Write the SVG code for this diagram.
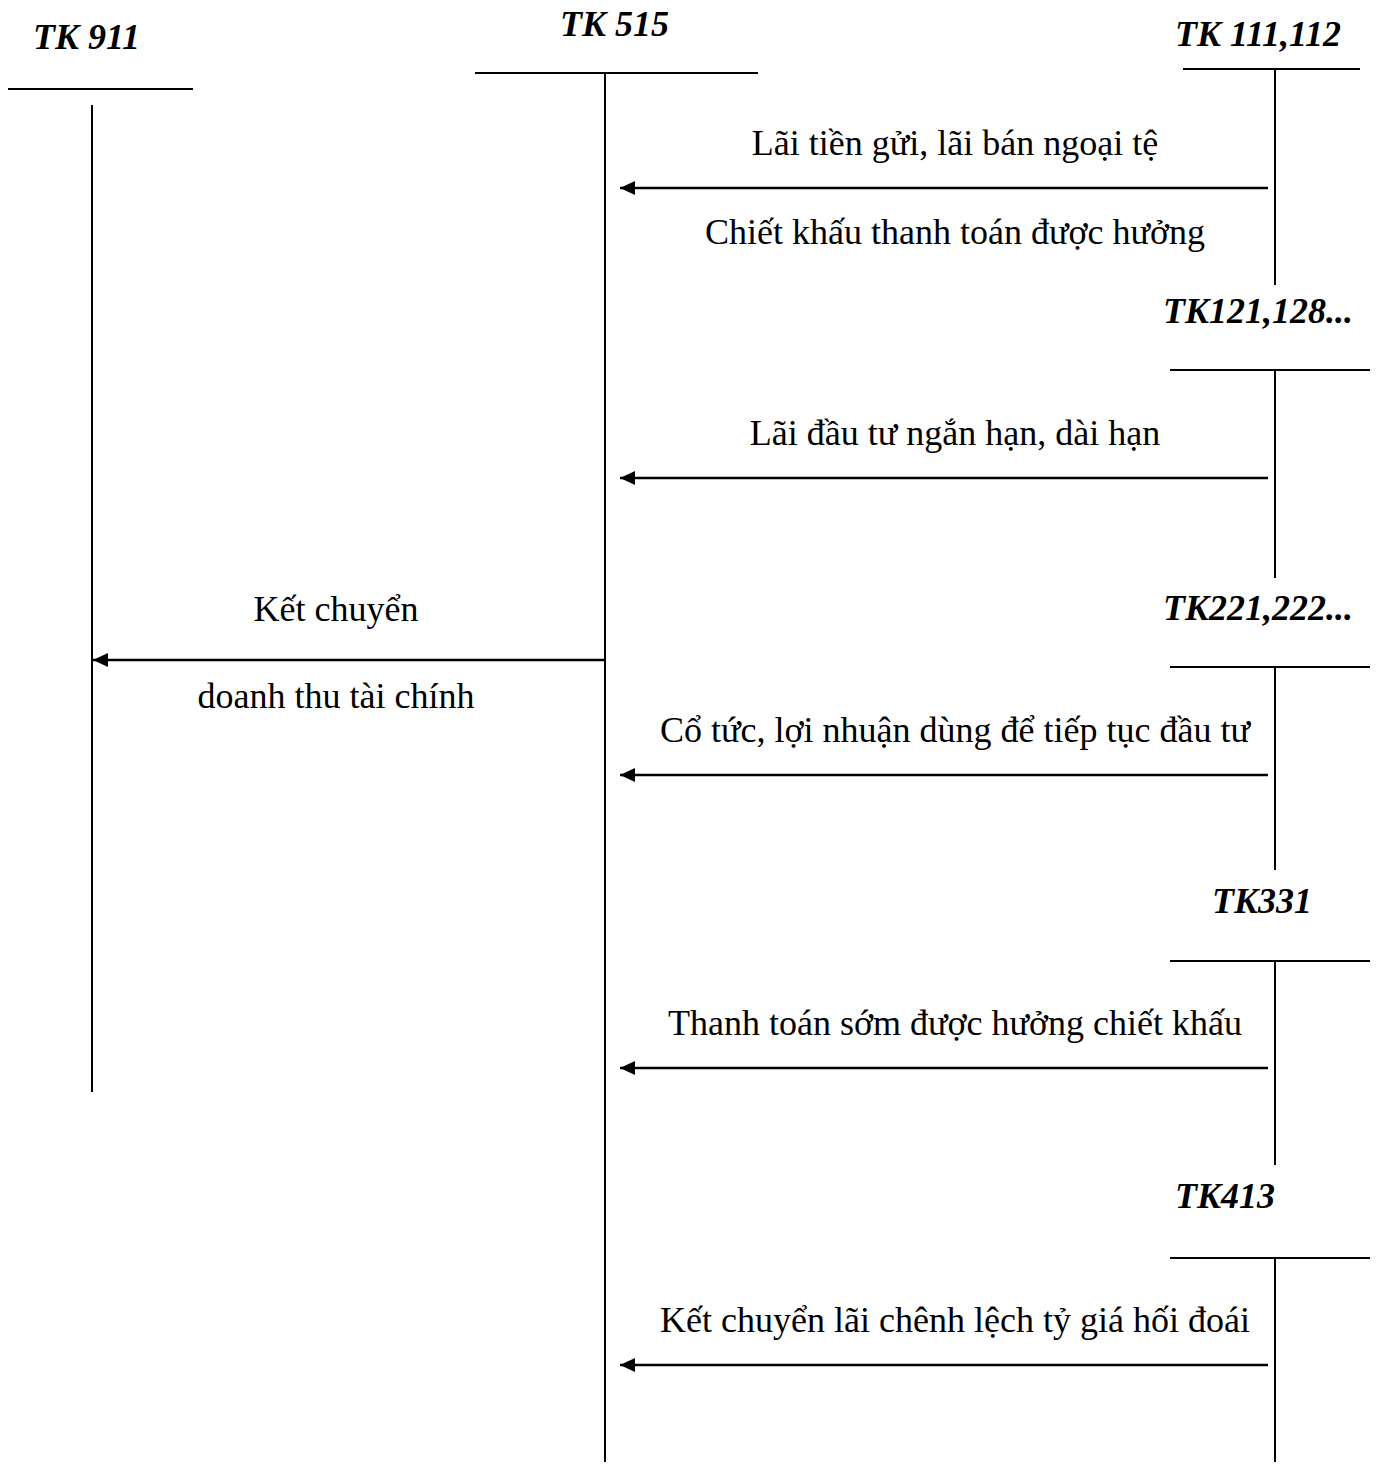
<svg xmlns="http://www.w3.org/2000/svg" width="1376" height="1466" viewBox="0 0 1376 1466">
  <style>
    .acct { font-family: "Liberation Serif", "Times New Roman", serif; font-size: 36px; font-weight: bold; font-style: italic; fill: #000; }
    .lbl { font-family: "Liberation Serif", "Times New Roman", serif; font-size: 36px; fill: #000; text-anchor: middle; }
    .t { stroke: #000; stroke-width: 2; fill: none; }
    .flow { stroke: #000; stroke-width: 2.4; fill: none; marker-end: url(#head); }
  </style>
  <defs>
    <marker id="head" markerUnits="userSpaceOnUse" markerWidth="16" markerHeight="14" refX="15" refY="7" orient="auto">
      <path d="M0,0 L15,7 L0,14 Z" fill="#000"/>
    </marker>
  </defs>
  <rect width="1376" height="1466" fill="#fff"/>

  <!-- T-accounts -->
  <g id="tk911">
    <text class="acct" x="33" y="49">TK 911</text>
    <line class="t" x1="8" y1="89" x2="193" y2="89"/>
    <line class="t" x1="92" y1="105" x2="92" y2="1092"/>
  </g>
  <g id="tk515">
    <text class="acct" x="560" y="36">TK 515</text>
    <line class="t" x1="475" y1="73" x2="758" y2="73"/>
    <line class="t" x1="605" y1="73" x2="605" y2="1462"/>
  </g>
  <g id="tk111">
    <text class="acct" x="1175" y="46">TK 111,112</text>
    <line class="t" x1="1183" y1="69" x2="1360" y2="69"/>
    <line class="t" x1="1275" y1="69" x2="1275" y2="285"/>
  </g>
  <g id="tk121">
    <text class="acct" x="1163" y="323">TK121,128...</text>
    <line class="t" x1="1170" y1="370" x2="1370" y2="370"/>
    <line class="t" x1="1275" y1="370" x2="1275" y2="578"/>
  </g>
  <g id="tk221">
    <text class="acct" x="1163" y="620">TK221,222...</text>
    <line class="t" x1="1170" y1="667" x2="1370" y2="667"/>
    <line class="t" x1="1275" y1="667" x2="1275" y2="870"/>
  </g>
  <g id="tk331">
    <text class="acct" x="1212" y="913">TK331</text>
    <line class="t" x1="1170" y1="961" x2="1370" y2="961"/>
    <line class="t" x1="1275" y1="961" x2="1275" y2="1165"/>
  </g>
  <g id="tk413">
    <text class="acct" x="1175" y="1208">TK413</text>
    <line class="t" x1="1170" y1="1258" x2="1370" y2="1258"/>
    <line class="t" x1="1275" y1="1258" x2="1275" y2="1462"/>
  </g>

  <!-- Postings -->
  <g id="connectors">
    <line class="flow" x1="1268" y1="188" x2="620" y2="188"/>
    <line class="flow" x1="1268" y1="478" x2="620" y2="478"/>
    <line class="flow" x1="605" y1="660" x2="93" y2="660"/>
    <line class="flow" x1="1268" y1="775" x2="620" y2="775"/>
    <line class="flow" x1="1268" y1="1068" x2="620" y2="1068"/>
    <line class="flow" x1="1268" y1="1365" x2="620" y2="1365"/>
  </g>

  <g id="labels">
    <text class="lbl" x="955" y="155">Lãi tiền gửi, lãi bán ngoại tệ</text>
    <text class="lbl" x="955" y="244">Chiết khấu thanh toán được hưởng</text>
    <text class="lbl" x="955" y="445">Lãi đầu tư ngắn hạn, dài hạn</text>
    <text class="lbl" x="336" y="621">Kết chuyển</text>
    <text class="lbl" x="336" y="708">doanh thu tài chính</text>
    <text class="lbl" x="955" y="742">Cổ tức, lợi nhuận dùng để tiếp tục đầu tư</text>
    <text class="lbl" x="955" y="1035">Thanh toán sớm được hưởng chiết khấu</text>
    <text class="lbl" x="955" y="1332">Kết chuyển lãi chênh lệch tỷ giá hối đoái</text>
  </g>
</svg>
